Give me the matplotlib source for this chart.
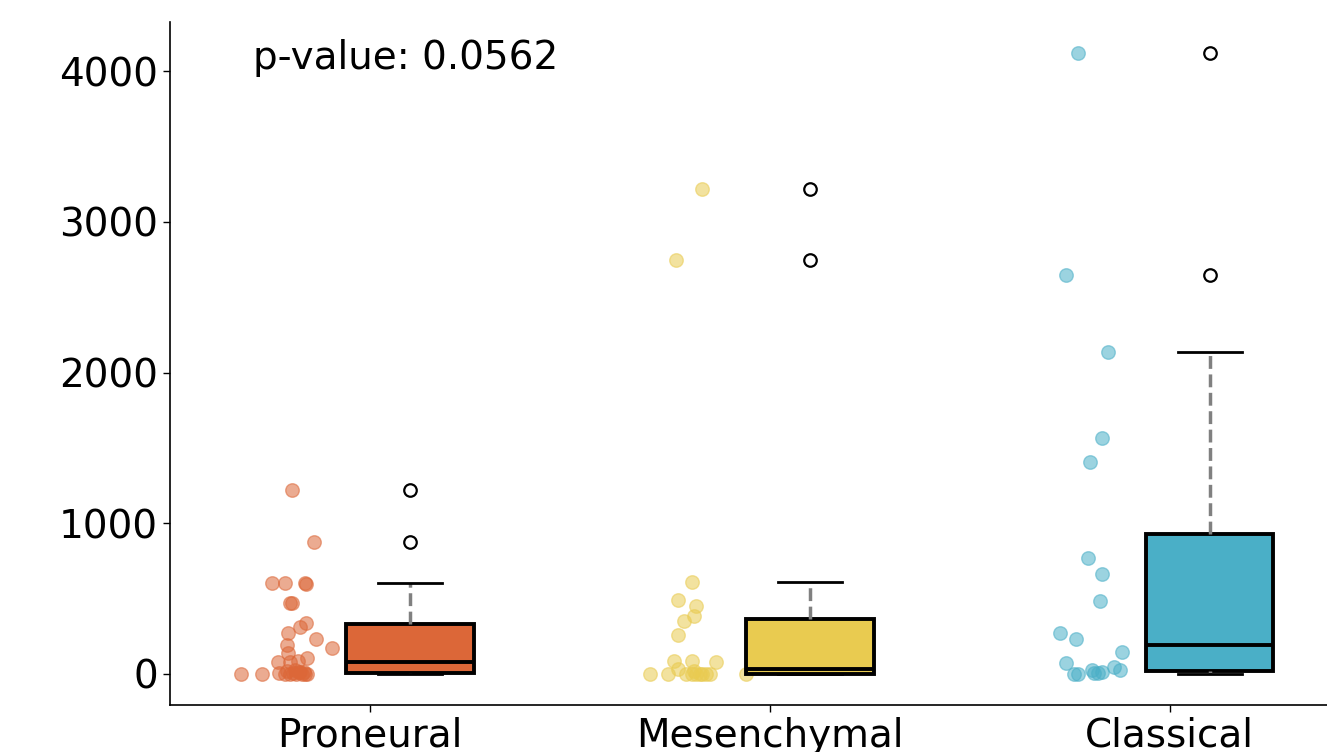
import matplotlib
matplotlib.use('Agg')
import matplotlib.pyplot as plt
import numpy as np

# groups and colours
groups = ['Proneural', 'Mesenchymal', 'Classical']
colors = ['#DC6738', '#E9CB50', '#4AAFC7']
p_text = 'p-value: 0.0562'

# values
proneural = [1219, 874, 606, 603, 603, 600, 473, 470, 338, 311, 272, 232, 192,
             172, 139, 106, 86, 79, 79,
             0, 0, 5, 0, 3, 8, 0, 12, 2, 15, 0, 20, 10, 25, 0]
mesenchymal = [609, 490, 450, 384, 351, 258, 86, 86, 79, 33, 20,
               0, 0, 0, 0, 0, 0, 0, 0, 0, 0, 3219, 2748]
classical = [4119, 2649, 2139, 1563, 1404, 768, 662, 483, 272, 232, 146, 73,
             46, 26, 26, 13, 7, 5, 0, 0]

# horizontal jitter of each dot (offset from the tick), as seen in the picture
proneural_jit = [-0.195, -0.14, -0.163, -0.245, -0.213, -0.16, -0.2, -0.195,
                 -0.16, -0.175, -0.205, -0.135, -0.208, -0.095, -0.205, -0.158,
                 -0.18, -0.23, -0.2,
                 -0.323, -0.27, -0.228, -0.213, -0.2, -0.193, -0.185, -0.178,
                 -0.17, -0.165, -0.158, -0.208, -0.175, -0.188, -0.163]
mesenchymal_jit = [-0.193, -0.228, -0.183, -0.188, -0.213, -0.23, -0.238,
                   -0.193, -0.133, -0.23, -0.188,
                   -0.3, -0.255, -0.208, -0.195, -0.183, -0.17, -0.158,
                   -0.15, -0.058, -0.175, -0.168, -0.235]
classical_jit = [-0.228, -0.26, -0.155, -0.168, -0.2, -0.203, -0.17, -0.173,
                 -0.273, -0.235, -0.12, -0.26, -0.14, -0.123, -0.195, -0.17,
                 -0.188, -0.18, -0.238, -0.23]

data = [proneural, mesenchymal, classical]
jitter = [proneural_jit, mesenchymal_jit, classical_jit]

fig = plt.figure(figsize=(13.27, 7.52), dpi=100)
ax = fig.add_axes([0.128, 0.0625, 0.904, 0.908])

for i in range(3):
    xs = i + np.array(jitter[i])
    ax.scatter(xs, data[i], s=95, color=colors[i], alpha=0.55,
               edgecolors=colors[i], linewidths=1, zorder=2)

bp = ax.boxplot(data, positions=[0.1, 1.1, 2.1], widths=0.32,
                patch_artist=True, manage_ticks=False,
                boxprops=dict(edgecolor='black', linewidth=2.8),
                medianprops=dict(color='black', linewidth=2.8),
                whiskerprops=dict(color='gray', linewidth=2.5, linestyle='--'),
                capprops=dict(color='black', linewidth=2),
                flierprops=dict(marker='o', markerfacecolor='none',
                                markeredgecolor='black', markersize=9,
                                markeredgewidth=1.6))
for patch, c in zip(bp['boxes'], colors):
    patch.set_facecolor(c)

ax.set_xlim(-0.5, 2.5)
ax.set_xticks([0, 1, 2])
ax.set_xticklabels(groups)
ax.set_yticks([0, 1000, 2000, 3000, 4000])
ax.tick_params(axis='both', labelsize=28, length=5, width=1)
ax.spines['top'].set_visible(False)
ax.spines['right'].set_visible(False)
ax.spines['left'].set_linewidth(1.2)
ax.spines['bottom'].set_linewidth(1.2)

ax.text(0.069, 0.947, p_text, transform=ax.transAxes, fontsize=28,
        ha='left', va='center')

fig.savefig('out.png', dpi=100)
